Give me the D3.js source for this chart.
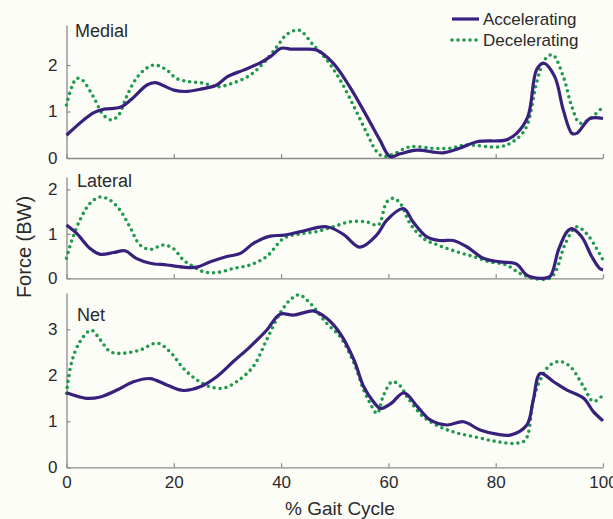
<!DOCTYPE html>
<html lang="en">
<head>
  <meta charset="UTF-8" />
  <title>Knee Contact Force</title>
  <script src="https://d3js.org/d3.v7.min.js"></script>
  <style>
    body { margin: 0; background: #fdfdf8; font-family: Arial, "Liberation Sans", sans-serif; }
    svg { display: block; }
  </style>
</head>
<body>
  <div id="vis-container"></div>

  <script>
    // Medial
    const medialAccPct = [0,5,7,10,12,15,16.5,20,22,25,28,30,33,36,38,40,42,44,46.6,49.7,52.8,56,58.4,60.3,62.2,65.3,70.2,73.3,76.5,82,83.9,86,87.6,88.9,91,92.6,94.2,95.1,97.6,100];
    const medialAcc = [0.49,0.97,1.05,1.09,1.25,1.57,1.62,1.46,1.43,1.48,1.57,1.75,1.89,2.04,2.18,2.36,2.34,2.34,2.32,2.04,1.53,0.89,0.39,0.03,0.09,0.17,0.11,0.21,0.35,0.39,0.53,0.89,1.89,2.04,1.75,1.03,0.53,0.53,0.85,0.85];
    const medialDecPct = [0,1,1.9,2.9,5,6.9,8.4,9.7,11.2,13,14.9,16.5,18.7,20.5,23,25.5,28,31,34.2,36.7,39.2,41,43.3,46,48.5,51,53.6,56,57.8,59.1,61,64,68.2,71.4,74.5,80.7,83.2,85.6,87.6,89.1,90.6,92.6,94.2,95.7,97.6,100];
    const medialDec = [1.14,1.53,1.71,1.68,1.32,0.92,0.82,0.92,1.32,1.71,1.93,2.0,1.89,1.71,1.64,1.61,1.53,1.61,1.78,2.04,2.39,2.65,2.75,2.43,2.11,1.68,1.10,0.53,0.14,0.03,0.09,0.24,0.21,0.21,0.28,0.24,0.35,0.64,1.61,2.11,2.22,1.75,1.10,0.75,0.85,1.10];

    // Lateral
    const lateralAccPct = [0,1.9,4.4,6.3,8.8,10.9,13,15.6,18.7,21.8,24.3,26.8,29.9,32.4,34.9,38,40.5,43.6,48.5,51.6,54.7,57.8,59.7,62.8,64.6,67.1,69.6,72.1,74.6,77.7,80.8,83.9,85.8,88.3,90.1,91.7,93.3,94.2,96,97.9,99.4,100];
    const lateralAcc = [1.2,1.01,0.67,0.54,0.58,0.62,0.45,0.34,0.30,0.25,0.25,0.37,0.49,0.56,0.79,0.95,0.97,1.05,1.16,0.99,0.70,0.97,1.31,1.57,1.27,0.94,0.85,0.85,0.71,0.45,0.37,0.32,0.07,0,0.04,0.64,1.05,1.12,0.94,0.49,0.22,0.19];
    const lateralDecPct = [0,0.9,2.5,4.4,6.3,8.1,10,11.8,13.7,15.6,18,19.9,21.8,23.7,25.5,28,31.1,34.2,37.3,40.5,43.5,46.6,49.7,52.8,55.9,58.1,59.7,60.9,62.2,64,66.5,69.6,72.7,75.8,78.9,82,84.5,87,90.1,91.3,93,95.1,96.9,98.8,100];
    const lateralDec = [0.45,0.82,1.31,1.69,1.83,1.76,1.53,1.16,0.75,0.65,0.75,0.67,0.41,0.26,0.15,0.13,0.22,0.30,0.49,0.90,1.0,1.05,1.16,1.27,1.27,1.2,1.72,1.80,1.69,1.24,0.90,0.73,0.60,0.49,0.37,0.30,0.11,0.0,0.0,0.19,0.79,1.16,1.01,0.67,0.41];

    // Net
    const netAccPct = [0,3.7,6.3,9.4,12.5,15.6,18.7,21.8,24.9,28,31.1,34.2,37.3,39.8,42.3,44.8,46,48.5,51,53.6,55.4,57,58.5,60.4,62.9,65.4,67.8,70.9,74,77.1,80.2,82.7,85.8,87,88.3,90.8,93.3,96.4,98.2,100];
    const netAcc = [1.62,1.50,1.53,1.68,1.86,1.93,1.79,1.67,1.75,1.97,2.30,2.62,2.98,3.33,3.31,3.38,3.40,3.24,2.91,2.33,1.75,1.46,1.28,1.38,1.62,1.32,1.03,0.92,0.99,0.81,0.72,0.70,0.92,1.46,2.04,1.86,1.68,1.50,1.21,1.01];
    const netDecPct = [0,0.9,2.5,4.6,6.3,8.2,10.6,13.7,16.9,19.3,21.8,24.3,26.8,29.2,31.7,34.8,37.3,39.8,41.7,43.3,45.4,48.5,51,53.6,55.4,56.6,57.9,59.1,60.7,62.2,63.5,66.5,69.6,72.7,76.5,80.2,83.3,85.5,87,88.3,90.1,92,93.9,96.4,98.2,100];
    const netDec = [1.61,2.26,2.73,2.98,2.77,2.51,2.48,2.55,2.70,2.51,2.15,1.90,1.75,1.72,1.86,2.19,2.77,3.35,3.64,3.75,3.57,3.13,2.84,2.26,1.68,1.39,1.17,1.57,1.86,1.77,1.53,1.10,0.88,0.75,0.65,0.56,0.52,0.59,1.46,1.90,2.22,2.30,2.19,1.75,1.43,1.57];

    const xTicks = [0, 20, 40, 60, 80, 100];
    const seriesNames = ["Accelerating", "Decelerating"];

    const accColor = "#38217d",
          decColor = "#1f9a4c",
          axisColor = "#8a8a8a",
          textColor = "#2a2a2a";

    const W = 613, H = 519;
    const left = 66.5, right = 603;

    const panels = [
      { name: "Medial",  bottom: 158,   top: 25,  max: 2.86, ticks: [0, 1, 2],
        acc: [medialAccPct, medialAcc], dec: [medialDecPct, medialDec], labelX: 75, labelY: 37 },
      { name: "Lateral", bottom: 278.3, top: 177, max: 2.28, ticks: [0, 1, 2],
        acc: [lateralAccPct, lateralAcc], dec: [lateralDecPct, lateralDec], labelX: 77, labelY: 187 },
      { name: "Net",     bottom: 467.3, top: 293, max: 3.79, ticks: [0, 1, 2, 3],
        acc: [netAccPct, netAcc], dec: [netDecPct, netDec], labelX: 77, labelY: 321 }
    ];

    const svg = d3.select("#vis-container")
      .append("svg")
      .attr("width", W)
      .attr("height", H)
      .style("background", "#fdfdf8");

    const x = d3.scaleLinear().domain([0, 100]).range([left, right]);

    panels.forEach((p, i) => {
      const y = d3.scaleLinear().domain([0, p.max]).range([p.bottom, p.top]);
      const g = svg.append("g");

      // axes (ticks point inward, like matlab)
      const xAxis = d3.axisBottom(x).tickValues(xTicks).tickSizeInner(-4).tickSizeOuter(0).tickPadding(9);
      if (i < panels.length - 1) xAxis.tickFormat("");
      const xg = g.append("g")
        .attr("transform", `translate(0,${p.bottom})`)
        .call(xAxis);

      const yg = g.append("g")
        .attr("transform", `translate(${left},0)`)
        .call(d3.axisLeft(y).tickValues(p.ticks).tickFormat(d3.format("d"))
          .tickSizeInner(-4).tickSizeOuter(0).tickPadding(9));

      [xg, yg].forEach(ax => {
        ax.select(".domain").attr("stroke", axisColor).attr("stroke-width", 1.3);
        ax.selectAll(".tick line").attr("stroke", axisColor).attr("stroke-width", 1.2);
        ax.selectAll(".tick text")
          .attr("fill", textColor)
          .style("font-size", "17px")
          .style("font-family", "Arial, 'Liberation Sans', sans-serif");
      });

      const line = d3.line()
        .x(d => x(d[0]))
        .y(d => y(d[1]))
        .curve(d3.curveCatmullRom.alpha(0.5));

      const decPts = p.dec[0].map((t, k) => [t, p.dec[1][k]]);
      const accPts = p.acc[0].map((t, k) => [t, p.acc[1][k]]);

      g.append("path")
        .datum(decPts)
        .attr("fill", "none")
        .attr("stroke", decColor)
        .attr("stroke-width", 3.6)
        .attr("stroke-linecap", "round")
        .attr("stroke-dasharray", "0 6")
        .attr("d", line);

      g.append("path")
        .datum(accPts)
        .attr("fill", "none")
        .attr("stroke", accColor)
        .attr("stroke-width", 3.2)
        .attr("stroke-linejoin", "round")
        .attr("d", line);

      g.append("text")
        .attr("x", p.labelX)
        .attr("y", p.labelY)
        .attr("fill", textColor)
        .style("font-size", "18px")
        .text(p.name);
    });

    // axis titles
    svg.append("text")
      .attr("x", 340)
      .attr("y", 515)
      .attr("text-anchor", "middle")
      .attr("fill", textColor)
      .style("font-size", "19px")
      .text("% Gait Cycle");

    svg.append("text")
      .attr("transform", "rotate(-90)")
      .attr("x", -247)
      .attr("y", 31)
      .attr("text-anchor", "middle")
      .attr("fill", textColor)
      .style("font-size", "20px")
      .text("Force (BW)");

    // legend
    const legend = svg.append("g");
    seriesNames.forEach((name, i) => {
      const ly = 19 + i * 21;
      legend.append("line")
        .attr("x1", 452).attr("x2", 479)
        .attr("y1", ly).attr("y2", ly)
        .attr("stroke", i === 0 ? accColor : decColor)
        .attr("stroke-width", i === 0 ? 3.2 : 3.6)
        .attr("stroke-linecap", i === 0 ? "butt" : "round")
        .attr("stroke-dasharray", i === 0 ? null : "0 6");
      legend.append("text")
        .attr("x", 483)
        .attr("y", ly + 6)
        .attr("fill", textColor)
        .style("font-size", "17px")
        .text(name);
    });
  </script>
</body>
</html>
